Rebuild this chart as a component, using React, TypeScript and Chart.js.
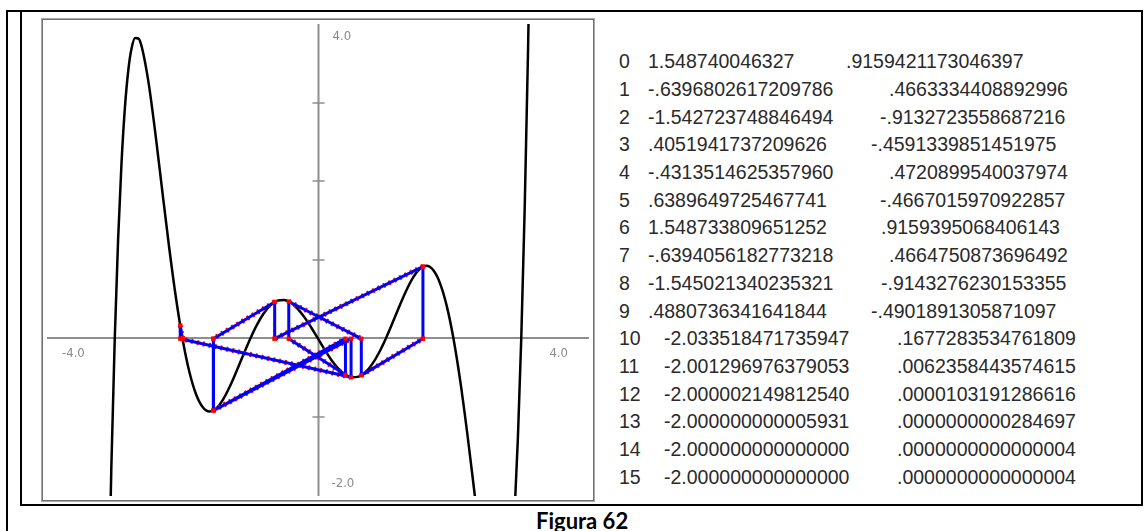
import React, { useEffect, useRef } from "react";
import { Chart, registerables } from "chart.js";

Chart.register(...registerables);

// Curve samples of the black polynomial (x, y)
const CURVE_X = [
  -3.2, -3.15, -3.1, -3.05, -3.0, -2.95, -2.9, -2.85, -2.8, -2.75, -2.7, -2.65, -2.6,
  -2.5, -2.4, -2.3, -2.2, -2.1, -2.0, -1.9, -1.8, -1.7, -1.6, -1.5, -1.4, -1.3, -1.2,
  -1.1, -1.0, -0.9, -0.8, -0.7, -0.6, -0.5, -0.4, -0.3, -0.2, -0.1, 0,
  0.1, 0.2, 0.3, 0.4, 0.5, 0.6, 0.7, 0.8, 0.9, 1.0, 1.1, 1.2, 1.3, 1.4, 1.5, 1.6,
  1.7, 1.8, 1.9, 2.0, 2.1, 2.2, 2.3, 2.4, 2.5, 2.6, 2.65, 2.7, 2.75, 2.8, 2.85, 2.9,
  2.95, 3.0, 3.05, 3.1, 3.15, 3.2,
];
const CURVE_Y = [
  -9.151, -6.142, -3.654, -1.625, 0, 1.272, 2.237, 2.937, 3.412, 3.697, 3.822, 3.816, 3.704,
  3.248, 2.606, 1.889, 1.181, 0.539, 0, -0.417, -0.706, -0.872, -0.926, -0.886, -0.772, -0.606, -0.409,
  -0.201, 0, 0.179, 0.324, 0.427, 0.483, 0.492, 0.456, 0.380, 0.273, 0.142, 0,
  -0.142, -0.273, -0.380, -0.456, -0.492, -0.483, -0.427, -0.324, -0.179, 0, 0.201, 0.409, 0.606, 0.772, 0.886, 0.926,
  0.872, 0.706, 0.417, 0, -0.539, -1.181, -1.889, -2.606, -3.248, -3.704, -3.816, -3.822, -3.697, -3.412, -2.937, -2.237,
  -1.272, 0, 1.625, 3.654, 6.142, 9.151,
];

// Iteration table (index, x_n, f(x_n))
const TABLE_IDX = ["0", "1", "2", "3", "4", "5", "6", "7", "8", "9", "10", "11", "12", "13", "14", "15"];
const TABLE_X = [
  "1.548740046327",
  "-.6396802617209786",
  "-1.542723748846494",
  ".4051941737209626",
  "-.4313514625357960",
  ".6389649725467741",
  "1.548733809651252",
  "-.6394056182773218",
  "-1.545021340235321",
  ".4880736341641844",
  "-2.033518471735947",
  "-2.001296976379053",
  "-2.000002149812540",
  "-2.000000000005931",
  "-2.000000000000000",
  "-2.000000000000000",
];
const TABLE_F = [
  ".9159421173046397",
  ".4663334408892996",
  "-.9132723558687216",
  "-.4591339851451975",
  ".4720899540037974",
  "-.4667015970922857",
  ".9159395068406143",
  ".4664750873696492",
  "-.9143276230153355",
  "-.4901891305871097",
  ".1677283534761809",
  ".0062358443574615",
  ".0000103191286616",
  ".0000000000284697",
  ".0000000000000004",
  ".0000000000000004",
];

// Axis labels drawn inside the plot
const X_MIN = -4;
const X_MAX = 4;
const Y_MIN = -2;
const Y_MAX = 4;
const X_LABELS = ["-4.0", "4.0"];
const Y_LABELS = ["4.0", "-2.0"];
const Y_TICKS = [-1, 1, 2, 3];

// Layout (positions only)
const COL2_LEFT = [648, 648, 648, 648, 648, 648, 648, 648, 648, 648, 664, 664, 664, 664, 664, 664];
const COL3_LEFT = [846, 889, 880, 871, 889, 880, 881, 889, 881, 871, 897, 897, 897, 897, 897, 897];
const ROW0_CENTER = 61;
const ROW_STEP = 27.7;

export default function App() {
  const ref = useRef<HTMLCanvasElement>(null);

  useEffect(() => {
    const xs = TABLE_X.map(Number);
    const fs = TABLE_F.map(Number);
    const curve = CURVE_X.map((x, i) => ({ x, y: CURVE_Y[i] }));
    const verticals: any[] = [];
    const tangents: any[] = [];
    const pts: any[] = [];
    for (let i = 0; i < xs.length; i++) {
      verticals.push({ x: xs[i], y: 0 }, { x: xs[i], y: fs[i] }, { x: xs[i], y: null });
      pts.push({ x: xs[i], y: 0 }, { x: xs[i], y: fs[i] });
      if (i + 1 < xs.length) {
        tangents.push({ x: xs[i], y: fs[i] }, { x: xs[i + 1], y: 0 }, { x: xs[i + 1], y: null });
      }
    }

    const axesPlugin = {
      id: "axesInside",
      beforeDatasetsDraw(chart: any) {
        const { ctx, chartArea: a, scales } = chart;
        const sx = scales.x;
        const sy = scales.y;
        const x0 = Math.round(sx.getPixelForValue(0)) + 0.5;
        const y0 = Math.round(sy.getPixelForValue(0)) - 1;
        ctx.save();
        ctx.strokeStyle = "#8e8e8e";
        ctx.lineWidth = 2;
        ctx.beginPath();
        ctx.moveTo(a.left, y0);
        ctx.lineTo(a.right, y0);
        ctx.moveTo(x0, a.top);
        ctx.lineTo(x0, a.bottom);
        ctx.stroke();
        ctx.lineWidth = 1.5;
        ctx.beginPath();
        for (const v of Y_TICKS) {
          const yy = Math.round(sy.getPixelForValue(v));
          ctx.moveTo(x0 - 6, yy);
          ctx.lineTo(x0 + 6, yy);
        }
        ctx.stroke();
        ctx.fillStyle = "#8a8a8a";
        ctx.font = "13px 'Liberation Sans Narrow', 'DejaVu Sans Condensed', sans-serif";
        ctx.textBaseline = "alphabetic";
        ctx.textAlign = "left";
        ctx.fillText(X_LABELS[0], sx.getPixelForValue(X_MIN) + 15, y0 + 19);
        ctx.textAlign = "right";
        ctx.fillText(X_LABELS[1], sx.getPixelForValue(X_MAX) - 21, y0 + 19);
        ctx.textAlign = "left";
        ctx.fillText(Y_LABELS[0], x0 + 14, sy.getPixelForValue(Y_MAX) + 16);
        ctx.fillText(Y_LABELS[1], x0 + 13, sy.getPixelForValue(Y_MIN) - 9);
        ctx.restore();
      },
    };

    const chart = new Chart(ref.current as HTMLCanvasElement, {
      type: "scatter",
      data: {
        datasets: [
          {
            label: "points",
            data: pts,
            showLine: false,
            pointStyle: "rect",
            pointRadius: 3,
            pointBackgroundColor: "#ff0000",
            pointBorderColor: "#ff0000",
            pointBorderWidth: 0,
            order: 0,
          } as any,
          {
            label: "tangents",
            data: tangents,
            showLine: true,
            spanGaps: false,
            borderColor: "#0000ff",
            borderWidth: 3,
            pointRadius: 0,
            order: 1,
          },
          {
            label: "verticals",
            data: verticals,
            showLine: true,
            spanGaps: false,
            borderColor: "#0000ff",
            borderWidth: 3,
            pointRadius: 0,
            order: 1,
          },
          {
            label: "tangentsRed",
            data: tangents,
            showLine: true,
            spanGaps: false,
            borderColor: "#ff0000",
            borderWidth: 5,
            borderDash: [2, 4],
            pointRadius: 0,
            order: 2,
          },
          {
            label: "curve",
            data: curve,
            showLine: true,
            borderColor: "#000000",
            borderWidth: 2.5,
            pointRadius: 0,
            cubicInterpolationMode: "monotone",
            order: 3,
          },
        ],
      },
      options: {
        animation: false,
        responsive: false,
        maintainAspectRatio: false,
        layout: { padding: 0 },
        plugins: { legend: { display: false }, tooltip: { enabled: false } },
        events: [],
        scales: {
          x: { type: "linear", min: X_MIN, max: X_MAX, display: false },
          y: { type: "linear", min: Y_MIN, max: Y_MAX, display: false },
        },
      },
      plugins: [axesPlugin],
    });
    return () => chart.destroy();
  }, []);

  const line = (left: number, top: number, width: number, height: number) => (
    <div style={{ position: "absolute", left, top, width, height, background: "#000" }} />
  );

  return (
    <div style={{ position: "absolute", left: 0, top: 0, width: 1148, height: 531, background: "#fff", overflow: "hidden" }}>
      {line(6, 10, 1137, 2)}
      {line(6, 10, 2, 521)}
      {line(20, 10, 2, 496)}
      {line(20, 504, 1123, 2)}
      {line(1141, 10, 2, 496)}
      <div
        style={{
          position: "absolute",
          left: 41,
          top: 18,
          width: 554,
          height: 484,
          boxSizing: "border-box",
          border: "1px solid #a8a8a8",
          boxShadow: "inset 0 0 0 1px #707070",
        }}
      />
      <canvas
        ref={ref}
        width={550}
        height={480}
        style={{ position: "absolute", left: 43, top: 20, width: 550, height: 480 }}
      />
      {TABLE_IDX.map((idx, i) => {
        const top = ROW0_CENTER + i * ROW_STEP - 9.75;
        const common: any = {
          position: "absolute",
          top,
          fontFamily: "'Liberation Sans', Arial, sans-serif",
          fontSize: 19.5,
          lineHeight: "20px",
          color: "#2a2a2a",
          whiteSpace: "nowrap",
        };
        return (
          <React.Fragment key={idx}>
            <div style={{ ...common, left: 619 }}>{idx}</div>
            <div style={{ ...common, left: COL2_LEFT[i] }}>{TABLE_X[i]}</div>
            <div style={{ ...common, left: COL3_LEFT[i] }}>{TABLE_F[i]}</div>
          </React.Fragment>
        );
      })}
      <div
        style={{
          position: "absolute",
          left: 536,
          top: 510,
          fontFamily: "Lato, 'Open Sans', sans-serif",
          fontWeight: 700,
          fontSize: 22,
          lineHeight: "22px",
          color: "#000",
          whiteSpace: "nowrap",
        }}
      >
        Figura 62
      </div>
    </div>
  );
}
